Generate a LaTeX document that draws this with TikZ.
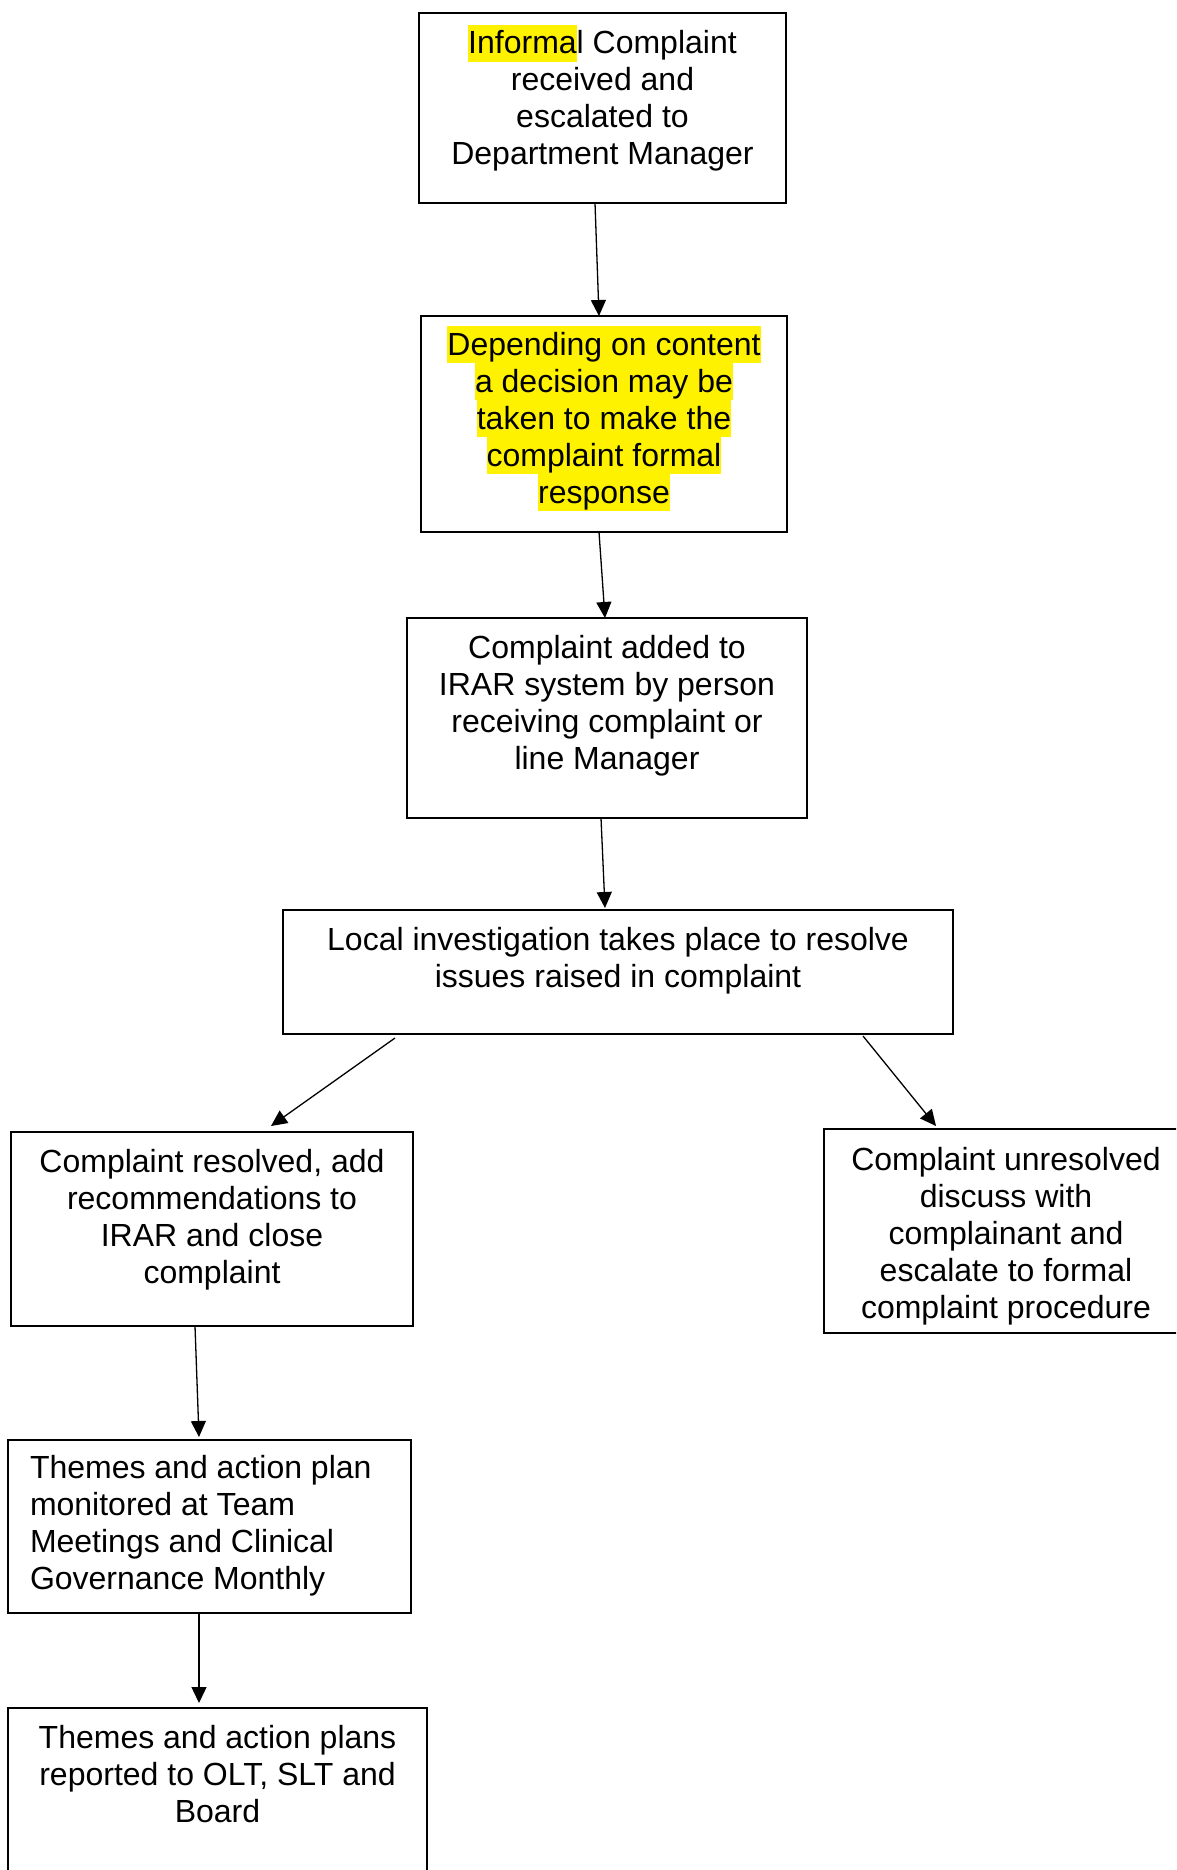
\documentclass[tikz,border=0pt]{standalone}
\usepackage{fontspec}
\setmainfont{Liberation Sans}
\usetikzlibrary{arrows.meta}
\newcommand\hlt[1]{{\setlength\fboxsep{0pt}\colorbox{yellow}{\rule[-8pt]{0pt}{37pt}#1}}}
\newcommand\sr{\rule[-8pt]{0pt}{37pt}}
\begin{document}
\begin{tikzpicture}[x=1pt,y=-1pt,
  every node/.style={inner sep=0pt,outer sep=0pt},
  boxnode/.style={draw,line width=1.5pt,rectangle},
  txt/.style={font=\fontsize{32pt}{37pt}\selectfont,align=center,anchor=north},
  arr/.style={line width=1.3pt,-{Triangle[length=16pt,width=15pt]}}]
\useasboundingbox (0,0) rectangle (1176,1870);
\fill[white] (0,0) rectangle (1176,1870);
\clip (0,0) rectangle (1176,1870);
% boxes
\node[boxnode,minimum width=367pt,minimum height=190pt] (b1) at (602.5,108) {};
\node[boxnode,minimum width=366pt,minimum height=216pt] (b2) at (604,424) {};
\node[boxnode,minimum width=400pt,minimum height=200pt] (b3) at (607,718) {};
\node[boxnode,minimum width=670pt,minimum height=124pt] (b4) at (618,972) {};
\node[boxnode,minimum width=402pt,minimum height=194pt] (b5) at (212,1229) {};
\node[boxnode,minimum width=358pt,minimum height=204pt] (b6) at (1003,1231) {};
\node[boxnode,minimum width=403pt,minimum height=173pt] (b7) at (209.5,1526.5) {};
\node[boxnode,minimum width=419pt,minimum height=182pt] (b8) at (217.5,1799) {};
% texts
\node[txt] (t1) at (602.5,25) {\hlt{Informa}l Complaint\\\sr received and\\\sr escalated to\\\sr Department Manager};
\node[txt] (t2) at (604,326) {\hlt{Depending on content}\\\hlt{a decision may be}\\\hlt{taken to make the}\\\hlt{complaint formal}\\\hlt{response}};
\node[txt] (t3) at (607,629) {\sr Complaint added to\\\sr IRAR system by person\\\sr receiving complaint or\\\sr line Manager};
\node[txt] (t4) at (618,921) {\sr Local investigation takes place to resolve\\\sr issues raised in complaint};
\node[txt] (t5) at (212,1143) {\sr Complaint resolved, add\\\sr recommendations to\\\sr IRAR and close\\\sr complaint};
\node[txt] (t6) at (1006,1141) {\sr Complaint unresolved\\\sr discuss with\\\sr complainant and\\\sr escalate to formal\\\sr complaint procedure};
\node[txt,align=left,anchor=north west] (t7) at (30,1449) {\sr Themes and action plan\\\sr monitored at Team\\\sr Meetings and Clinical\\\sr Governance Monthly};
\node[txt] (t8) at (217.5,1719) {\sr Themes and action plans\\\sr reported to OLT, SLT and\\\sr Board};
% connectors
\draw[arr] ([xshift=176pt]b1.south west) -- ([xshift=178pt]b2.north west);
\draw[arr] ([xshift=178pt]b2.south west) -- ([xshift=198pt]b3.north west);
\draw[arr] ([xshift=194pt]b3.south west) -- ([xshift=322pt,yshift=2pt]b4.north west);
\draw[arr] ([xshift=112pt,yshift=-4pt]b4.south west) -- ([xshift=260pt,yshift=6pt]b5.north west);
\draw[arr] ([xshift=580pt,yshift=-2pt]b4.south west) -- ([xshift=112pt,yshift=3pt]b6.north west);
\draw[arr] ([xshift=184pt]b5.south west) -- ([xshift=191pt,yshift=3pt]b7.north west);
\draw[arr] ([xshift=191pt]b7.south west) -- ([xshift=191pt,yshift=5pt]b8.north west);
\end{tikzpicture}
\end{document}
